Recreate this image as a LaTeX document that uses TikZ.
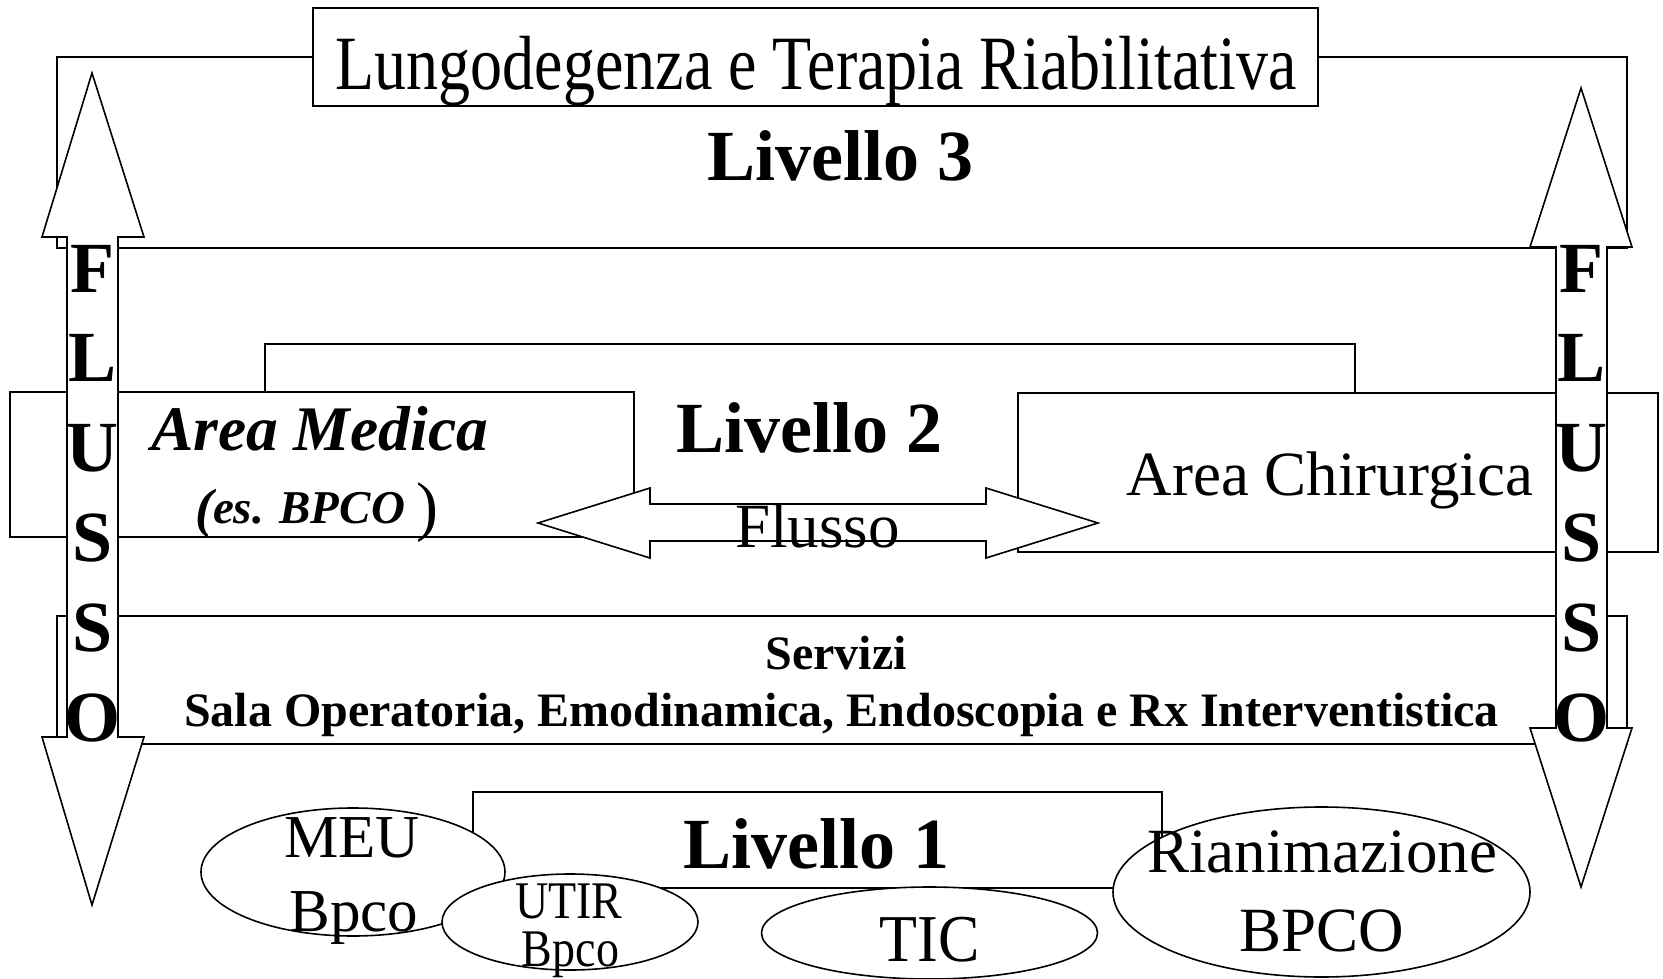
\documentclass[tikz,border=0pt]{standalone}
\usepackage{graphicx}
\usepackage{fontspec}
\setmainfont{Liberation Serif}
\newcommand{\myfs}[1]{\fontsize{#1pt}{#1pt}\selectfont}
\begin{document}
\begin{tikzpicture}[x=1pt,y=-1pt,
  shp/.style={draw=black,line width=1.6pt,fill=white},
  txt/.style={inner sep=0pt,anchor=base},
  rg/.style={font=\myfs{#1}},
  bd/.style={font=\bfseries\myfs{#1}},
  bi/.style={font=\bfseries\itshape\myfs{#1}}]
\useasboundingbox (0,0) rectangle (1663,979);
\fill[white] (0,0) rectangle (1663,979);
% Livello 3 frame and top box
\draw[shp] (57,57) rectangle (1627,248);
\draw[shp] (313,8) rectangle (1318,106);
% Livello 2 frame
\draw[shp] (90,248) rectangle (1580,616);
\draw[shp] (265,344) rectangle (1355,504);
\draw[shp] (10,392) rectangle (634,537);
\draw[shp] (1018,393) rectangle (1658,552);
% double arrow
\draw[shp] (538,523) -- (650,488) -- (650,504) -- (986,504) -- (986,488) -- (1098,523)
  -- (986,558) -- (986,541) -- (650,541) -- (650,558) -- cycle;
% Servizi
\draw[shp] (57,616) rectangle (1627,744);
% vertical arrows
\draw[shp] (92,73) -- (144,237) -- (118,237) -- (118,737) -- (144,737) -- (92,905)
  -- (42,737) -- (67,737) -- (67,237) -- (42,237) -- cycle;
\draw[shp] (1581,88) -- (1632,247) -- (1607,247) -- (1607,728) -- (1632,728) -- (1581,887)
  -- (1530,728) -- (1556,728) -- (1556,247) -- (1530,247) -- cycle;
% Livello 1
\draw[shp] (473,792) rectangle (1162,888);
\draw[shp] (353,872) ellipse [x radius=152pt, y radius=64pt];
\draw[shp] (570,922) ellipse [x radius=128pt, y radius=48pt];
\draw[shp] (929.5,933) ellipse [x radius=168pt, y radius=46pt];
\draw[shp] (1321.5,892) ellipse [x radius=208.5pt, y radius=85pt];
% texts
\node[txt,rg=64] (lung) at (816,90) {\scalebox{1}[1.2]{Lungodegenza e Terapia Riabilitativa}};
\node[txt,bd=72] (liv3) at (840,180) {Livello 3};
\node[txt,bd=72] (liv2) at (809.5,452) {Livello 2};
\node[txt,bi=63.5] (amed) at (319.5,450) {Area Medica};
\node[txt,bi=54] (pl) at (204,526) {(};
\node[txt,bi=47] (bpco) at (309,523) {es. BPCO};
\node[txt,rg=66] (pr) at (427,528) {)};
\node[txt,rg=63] (achi) at (1330,495) {Area Chirurgica};
\node[txt,rg=63] (flusso) at (817.5,547) {Flusso};
\node[txt,bd=48] (serv) at (836,669) {Servizi};
\node[txt,bd=48] (sala) at (841.5,726) {Sala Operatoria, Emodinamica, Endoscopia e Rx Interventistica};
\node[txt,bd=72] (liv1) at (816,868) {Livello 1};
\node[txt,rg=61] (meu1) at (352,857) {MEU};
\node[txt,rg=61] (meu2) at (354,931) {Bpco};
\node[txt,rg=46] (utir1) at (569,918) {\scalebox{1}[1.15]{UTIR}};
\node[txt,rg=46] (utir2) at (570.5,966) {\scalebox{1}[1.15]{Bpco}};
\node[txt,rg=62] (tic) at (929.5,961) {\scalebox{1}[1.08]{TIC}};
\node[txt,rg=63] (rian1) at (1322,872) {Rianimazione};
\node[txt,rg=63] (rian2) at (1321.5,951) {BPCO};
\foreach \c [count=\i from 0] in {F,L,U,S,S,O}{
  \node[txt,bd=72] (fl\i) at (92.5,292+89.8*\i) {\c};
  \node[txt,bd=72] (fr\i) at (1581.5,292+89.8*\i) {\c};
}
\end{tikzpicture}
\end{document}
